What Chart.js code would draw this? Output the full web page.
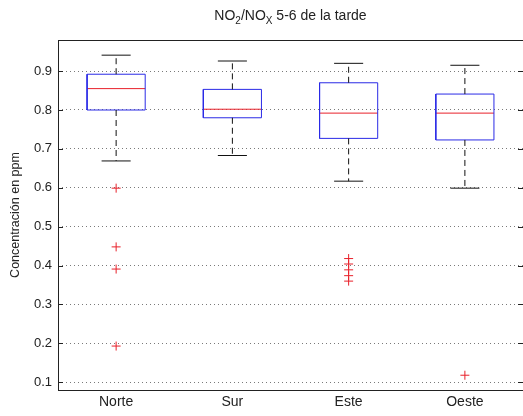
<!DOCTYPE html>
<html>
<head>
<meta charset="utf-8">
<script src="https://cdn.jsdelivr.net/npm/chart.js@4/dist/chart.umd.min.js"></script>
<style>
  html, body { margin: 0; padding: 0; background: #fff; }
  #wrap { position: relative; width: 523px; height: 416px; }
  #title {
    position: absolute; top: 7px; left: 58px; width: 465px;
    text-align: center; font: 14px "Liberation Sans", Arial, sans-serif; color: #222;
  }
  #title sub { font-size: 10px; }
</style>
</head>
<body>
<div id="wrap">
  <canvas id="chart" width="523" height="416"></canvas>
  <div id="title">NO<sub>2</sub>/NO<sub>X</sub> 5-6 de la tarde</div>
</div>
<script>
const categories = ['Norte', 'Sur', 'Este', 'Oeste'];
const upperWhisker = [0.941, 0.926, 0.920, 0.915];
const q3 = [0.892, 0.853, 0.870, 0.841];
const median = [0.855, 0.802, 0.792, 0.792];
const q1 = [0.800, 0.780, 0.727, 0.723];
const lowerWhisker = [0.669, 0.683, 0.617, 0.599];
const outliers = [
  [0.599, 0.448, 0.391, 0.193],
  [],
  [0.418, 0.404, 0.389, 0.374, 0.360],
  [0.118]
];
const yTicks = [0.1, 0.2, 0.3, 0.4, 0.5, 0.6, 0.7, 0.8, 0.9];
const yTickLabels = ['0.1', '0.2', '0.3', '0.4', '0.5', '0.6', '0.7', '0.8', '0.9'];

const BLUE = '#2a2ae6';
const RED = '#e8202a';
const boxHalf = 0.25;
const capHalf = 0.125;

function seg(data, color, dash) {
  return {
    data: data,
    showLine: true,
    borderColor: color,
    borderWidth: 1,
    borderDash: dash || [],
    pointRadius: 0,
    fill: false
  };
}

const datasets = [];
categories.forEach((c, i) => {
  const x = i + 1;
  // whiskers
  datasets.push(seg([{x: x, y: q3[i]}, {x: x, y: upperWhisker[i]}], '#111', [6, 4]));
  datasets.push(seg([{x: x, y: q1[i]}, {x: x, y: lowerWhisker[i]}], '#111', [6, 4]));
  // caps
  datasets.push(seg([{x: x - capHalf, y: upperWhisker[i]}, {x: x + capHalf, y: upperWhisker[i]}], '#111'));
  datasets.push(seg([{x: x - capHalf, y: lowerWhisker[i]}, {x: x + capHalf, y: lowerWhisker[i]}], '#111'));
  // box
  datasets.push(seg([
    {x: x - boxHalf, y: q1[i]}, {x: x + boxHalf, y: q1[i]},
    {x: x + boxHalf, y: q3[i]}, {x: x - boxHalf, y: q3[i]},
    {x: x - boxHalf, y: q1[i]}
  ], BLUE));
  // median
  datasets.push(seg([{x: x - boxHalf, y: median[i]}, {x: x + boxHalf, y: median[i]}], RED));
});

const outlierPoints = [];
outliers.forEach((list, i) => {
  list.forEach(v => outlierPoints.push({x: i + 1, y: v}));
});
datasets.push({
  data: outlierPoints,
  showLine: false,
  pointStyle: 'cross',
  pointRadius: 4.5,
  borderColor: RED,
  borderWidth: 1,
  backgroundColor: RED
});

const framePlugin = {
  id: 'frame',
  afterDraw(chart) {
    const a = chart.chartArea;
    const ctx = chart.ctx;
    const y = chart.scales.y;
    ctx.save();
    ctx.strokeStyle = '#222';
    ctx.lineWidth = 1;
    ctx.strokeRect(Math.round(a.left) + 0.5, Math.round(a.top) + 0.5,
      Math.round(a.right - a.left), Math.round(a.bottom - a.top));
    ctx.beginPath();
    yTicks.forEach(v => {
      const py = Math.round(y.getPixelForValue(v)) + 0.5;
      ctx.moveTo(a.left, py); ctx.lineTo(a.left + 5, py);
      ctx.moveTo(a.right - 5, py); ctx.lineTo(a.right, py);
    });
    ctx.stroke();
    ctx.restore();
  }
};

new Chart(document.getElementById('chart'), {
  type: 'scatter',
  data: { datasets: datasets },
  options: {
    responsive: false,
    animation: false,
    layout: { autoPadding: false, padding: { top: 40, left: 0, right: -2, bottom: 0 } },
    plugins: { legend: { display: false }, tooltip: { enabled: false } },
    scales: {
      x: {
        type: 'linear',
        min: 0.5,
        max: 4.5,
        afterBuildTicks: s => { s.ticks = categories.map((c, i) => ({ value: i + 1 })); },
        afterFit: s => { s.height = 26; },
        ticks: {
          callback: (v, idx) => categories[idx],
          color: '#222',
          font: { family: '"Liberation Sans", Arial, sans-serif', size: 14 },
          padding: 4,
          maxRotation: 0
        },
        grid: { display: false, drawTicks: false },
        border: { display: false }
      },
      y: {
        min: 0.08,
        max: 0.98,
        afterBuildTicks: s => { s.ticks = yTicks.map(v => ({ value: v })); },
        afterFit: s => { s.width = 58; },
        ticks: {
          callback: (v, idx) => yTickLabels[idx],
          color: '#222',
          font: { family: '"Liberation Sans", Arial, sans-serif', size: 13 },
          padding: 6
        },
        grid: { color: '#7a7a7a', drawTicks: false },
        border: { display: false, dash: [1, 3] },
        title: {
          display: true,
          text: 'Concentración en ppm',
          color: '#222',
          font: { family: '"Liberation Sans", Arial, sans-serif', size: 12.5 },
          padding: { top: 8, bottom: 0 }
        }
      }
    }
  },
  plugins: [framePlugin]
});
</script>
</body>
</html>
